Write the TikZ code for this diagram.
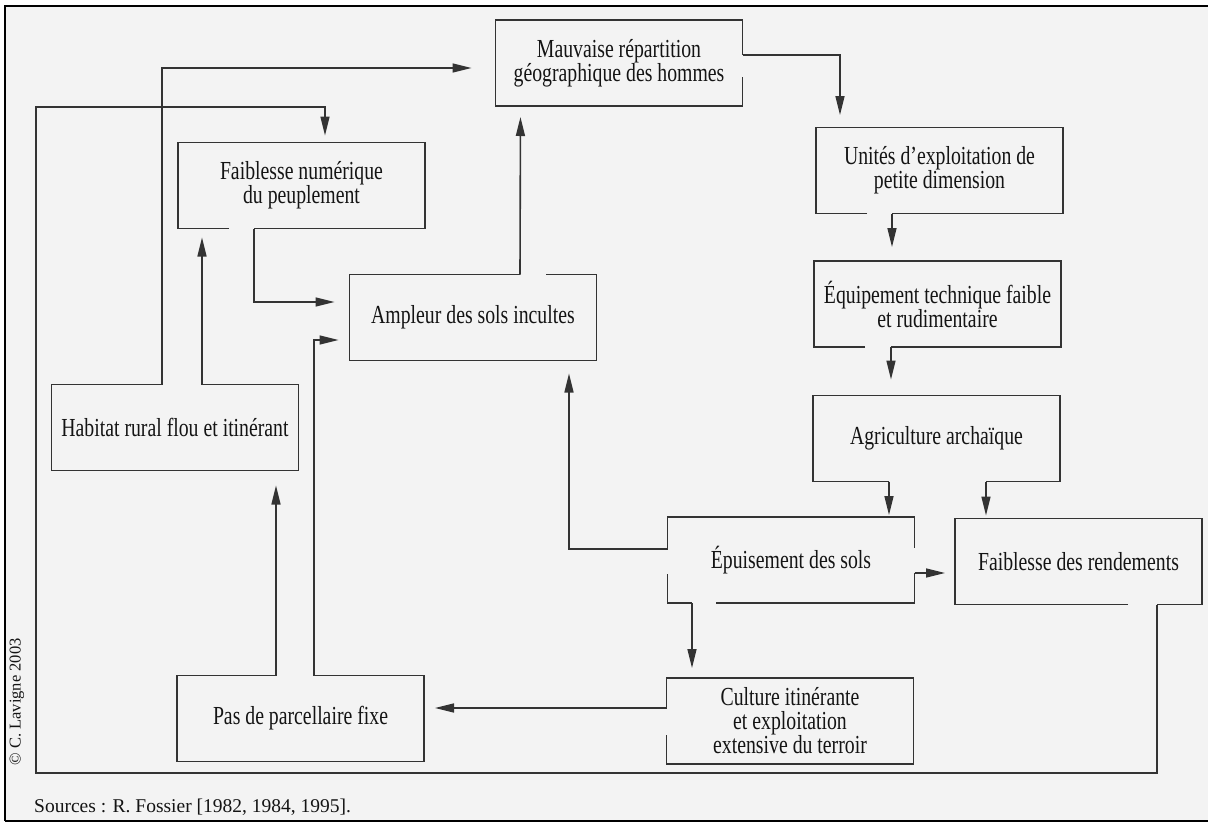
\documentclass[tikz,border=0pt]{standalone}
\usepackage{fontspec}
\setmainfont{Liberation Serif}
\newfontfamily\boxfont[FakeStretch=0.76]{Liberation Serif}
\usetikzlibrary{arrows.meta}
\definecolor{bgcol}{HTML}{F3F3F3}
\definecolor{linecol}{HTML}{333333}
\definecolor{txtcol}{HTML}{141414}
\begin{document}
\begin{tikzpicture}[x=1pt,y=-1pt,
  box/.style={draw=none, minimum width=247pt, minimum height=86pt, inner sep=0pt, outer sep=0pt, align=center, text=txtcol, font=\boxfont\fontsize{26pt}{24pt}\selectfont},
  boxline/.style={draw=linecol, line width=1.6pt, line join=miter},
  arr/.style={boxline, -{Triangle[length=19pt,width=9pt]}},
  frameline/.style={draw=black, line width=2.4pt}]
\useasboundingbox (0,0) rectangle (1208,823);
\fill[bgcol] (5,6) rectangle (1208,821);
\draw[frameline] (5,821) -- (5,6) -- (1208,6);
\draw[frameline, line width=2pt] (5,821) -- (1208,821);

% boxes (text nodes)
\node[box] (mv)  at (619,63)      {Mauvaise répartition\\géographique des hommes};
\node[box] (fn)  at (301.5,185.5) {Faiblesse numérique\\du peuplement};
\node[box] (amp) at (473,317.5)   {Ampleur des sols incultes};
\node[box] (hab) at (175,427.5)   {Habitat rural flou et itinérant};
\node[box] (pas) at (300.5,718.5) {Pas de parcellaire fixe};
\node[box] (un)  at (939.5,170.5) {Unités d’exploitation de\\petite dimension};
\node[box] (eq)  at (937.5,304)   {Équipement technique faible\\et rudimentaire};
\node[box] (agr) at (936.5,438.5) {Agriculture archaïque};
\node[box] (ep)  at (791,560)     {Épuisement des sols};
\node[box] (fr)  at (1078.5,561.5){Faiblesse des rendements};
\node[box] (cul) at (790,721)     {Culture itinérante\\et exploitation\\extensive du terroir};

% box outlines (with the gaps of the original)
\draw[boxline] ([yshift=-57pt]mv.north east) -- (mv.south east) -- (mv.south west) -- (mv.north west) -- (mv.north east) -- ([yshift=-35pt]mv.north east);
\draw[boxline] ([xshift=51pt]fn.south west) -- (fn.south west) -- (fn.north west) -- (fn.north east) -- (fn.south east) -- ([xshift=76pt]fn.south west);
\draw[boxline] ([xshift=170.5pt]amp.north west) -- (amp.north west) -- (amp.south west) -- (amp.south east) -- (amp.north east) -- ([xshift=196.5pt]amp.north west);
\draw[boxline] ([xshift=110.5pt]hab.north west) -- (hab.north west) -- (hab.south west) -- (hab.south east) -- (hab.north east) -- ([xshift=150.5pt]hab.north west);
\draw[boxline] ([xshift=99pt]pas.north west) -- (pas.north west) -- (pas.south west) -- (pas.south east) -- (pas.north east) -- ([xshift=137pt]pas.north west);
\draw[boxline] ([xshift=51pt]un.south west) -- (un.south west) -- (un.north west) -- (un.north east) -- (un.south east) -- ([xshift=76pt]un.south west);
\draw[boxline] ([xshift=51pt]eq.south west) -- (eq.south west) -- (eq.north west) -- (eq.north east) -- (eq.south east) -- ([xshift=77pt]eq.south west);
\draw[boxline] ([xshift=76pt]agr.south west) -- (agr.south west) -- (agr.north west) -- (agr.north east) -- (agr.south east) -- ([xshift=173pt]agr.south west);
\draw[boxline] ([yshift=-32pt]ep.north west) -- (ep.north west) -- (ep.north east) -- ([yshift=-31pt]ep.north east);
\draw[boxline] ([yshift=-56pt]ep.north east) -- (ep.south east) -- ([xshift=48.5pt]ep.south west);
\draw[boxline] ([yshift=-57pt]ep.north west) -- (ep.south west) -- ([xshift=24.5pt]ep.south west);
\draw[boxline] ([xshift=173pt]fr.south west) -- (fr.south west) -- (fr.north west) -- (fr.north east) -- (fr.south east) -- ([xshift=202pt]fr.south west);
\draw[boxline] ([yshift=-30pt]cul.north west) -- (cul.north west) -- (cul.north east) -- (cul.south east) -- (cul.south west) -- ([yshift=-57pt]cul.north west);

% helper coordinates
\coordinate (loopA) at (36,773);
\coordinate (loopB) at (36,107);
\coordinate (epR) at ([yshift=-56pt]ep.north east);
\coordinate (culL) at ([yshift=-30pt]cul.north west);

% connectors
\draw[arr, shorten >=24pt] ([xshift=110.5pt]hab.north west) |- ([yshift=-5pt]mv.west);
\draw[arr, shorten >=7pt] ([xshift=202pt]fr.south west) |- (loopA) -- (loopB) -| ([xshift=23.5pt]fn.north);
\draw[arr, shorten >=15pt] ([xshift=76pt]fn.south west) |- ([yshift=15.5pt]amp.west);
\draw[arr, shorten >=9pt] ([xshift=150.5pt]hab.north west) -- ([xshift=24pt]fn.south west);
\draw[arr, shorten >=11pt] ([xshift=170.5pt]amp.north west) -- ([xshift=25pt]mv.south west);
\draw[arr, shorten >=11pt] ([xshift=137pt]pas.north west) |- ([yshift=-22.5pt]amp.west);
\draw[arr, shorten >=15pt] ([xshift=99pt]pas.north west) -- ([xshift=224.5pt]hab.south west);
\draw[arr, shorten >=13pt] ([yshift=-32pt]ep.north west) -| ([xshift=219.5pt]amp.south west);
\draw[arr, shorten >=12.5pt] ([yshift=-35pt]mv.north east) -| ([xshift=24pt]un.north west);
\draw[arr, shorten >=14pt] ([xshift=76pt]un.south west) -- ([xshift=78pt]eq.north west);
\draw[arr, shorten >=16pt] ([xshift=77pt]eq.south west) -- ([xshift=78pt]agr.north west);
\draw[arr, shorten >=2pt] ([xshift=76pt]agr.south west) -- ([xshift=221.5pt]ep.north west);
\draw[arr, shorten >=3pt] ([xshift=173pt]agr.south west) -- ([xshift=31pt]fr.north west);
\draw[arr, shorten >=10pt] (epR) -- (epR -| fr.west);
\draw[arr, shorten >=10pt] ([xshift=24.5pt]ep.south west) -- ([xshift=25.5pt]cul.north west);
\draw[arr, shorten >=11pt] (culL) -- (culL -| pas.east);

% credits
\node[anchor=base west, inner sep=0pt, text=txtcol, font=\fontsize{19.5pt}{22pt}\selectfont] (src) at (34,812) {Sources : R. Fossier [1982, 1984, 1995].};
\node[rotate=90, inner sep=0pt, text=txtcol, font=\fontsize{16.5pt}{18pt}\selectfont] (copy) at (17,702) {© C. Lavigne 2003};
\end{tikzpicture}
\end{document}
